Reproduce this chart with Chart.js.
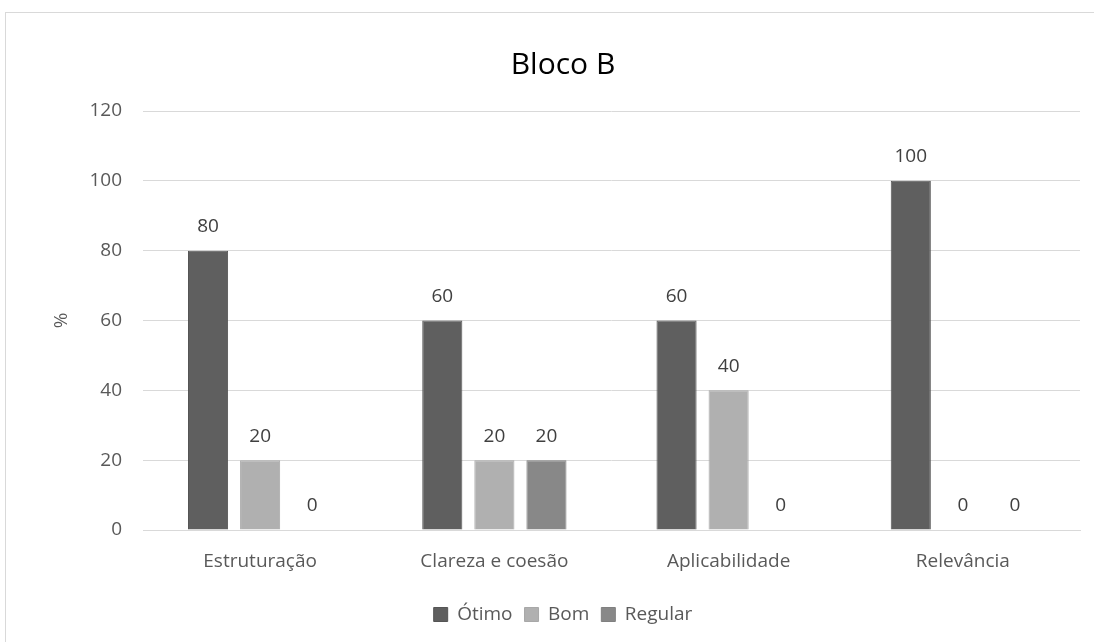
<!DOCTYPE html>
<html>
<head>
<meta charset="utf-8">
<script src="https://cdn.jsdelivr.net/npm/chart.js@4"></script>
<style>
  body { margin: 0; background: #fff; }
  #frame { position: absolute; left: 5px; top: 12px; width: 1200px; height: 700px; border: 1px solid #d9d9d9; }
  #wrap { position: absolute; left: 0; top: 0; width: 1094px; height: 642px; }
</style>
</head>
<body>
<div id="frame"></div>
<div id="wrap"><canvas id="chart" width="1094" height="642"></canvas></div>
<script>
const categories = ['Estruturação', 'Clareza e coesão', 'Aplicabilidade', 'Relevância'];
const otimo = [80, 60, 60, 100];
const bom = [20, 20, 40, 0];
const regular = [0, 20, 0, 0];
const seriesNames = ['Ótimo', 'Bom', 'Regular'];

const FONT = "'Open Sans', sans-serif";

// draws the value above each bar, like excel data labels
const valueLabels = {
    id: 'valueLabels',
    afterDatasetsDraw(chart) {
        const ctx = chart.ctx;
        ctx.save();
        ctx.font = '19px ' + FONT;
        ctx.fillStyle = '#404040';
        ctx.textAlign = 'center';
        ctx.textBaseline = 'middle';
        chart.data.datasets.forEach((ds, i) => {
            chart.getDatasetMeta(i).data.forEach((bar, j) => {
                ctx.fillText(String(ds.data[j]), bar.x, bar.y - 24);
            });
        });
        ctx.restore();
    }
};

new Chart(document.getElementById('chart').getContext('2d'), {
    type: 'bar',
    data: {
        labels: categories,
        datasets: [
            { label: seriesNames[0], data: otimo, backgroundColor: '#5f5f5f', borderColor: '#555555', borderWidth: 1 },
            { label: seriesNames[1], data: bom, backgroundColor: '#b0b0b0', borderColor: '#a8a8a8', borderWidth: 1 },
            { label: seriesNames[2], data: regular, backgroundColor: '#888888', borderColor: '#808080', borderWidth: 1 }
        ]
    },
    options: {
        responsive: false,
        animation: false,
        categoryPercentage: 0.667,
        barPercentage: 0.77,
        layout: { padding: { top: 47, left: 46, right: 14, bottom: 8 } },
        scales: {
            x: {
                grid: { display: false, drawTicks: false },
                border: { color: '#d9d9d9' },
                ticks: { color: '#595959', font: { family: FONT, size: 19 }, padding: 20 },
                afterFit(scale) { scale.height = 63; }
            },
            y: {
                min: 0,
                max: 120,
                ticks: { stepSize: 20, color: '#595959', font: { family: FONT, size: 19 }, padding: 21 },
                grid: { color: '#d9d9d9', drawTicks: false },
                border: { display: false },
                title: { display: true, text: '%', color: '#595959', font: { family: FONT, size: 19 }, padding: 4 },
                afterFit(scale) { scale.width = 97; }
            }
        },
        plugins: {
            title: {
                display: true,
                text: 'Bloco B',
                color: '#000000',
                font: { family: FONT, size: 30, weight: 'normal' },
                padding: { top: 0, bottom: 28 }
            },
            legend: {
                position: 'bottom',
                labels: {
                    color: '#595959',
                    font: { family: FONT, size: 19 },
                    boxWidth: 14,
                    boxHeight: 14,
                    padding: 12
                }
            },
            tooltip: { enabled: false }
        }
    },
    plugins: [valueLabels]
});
</script>
</body>
</html>
